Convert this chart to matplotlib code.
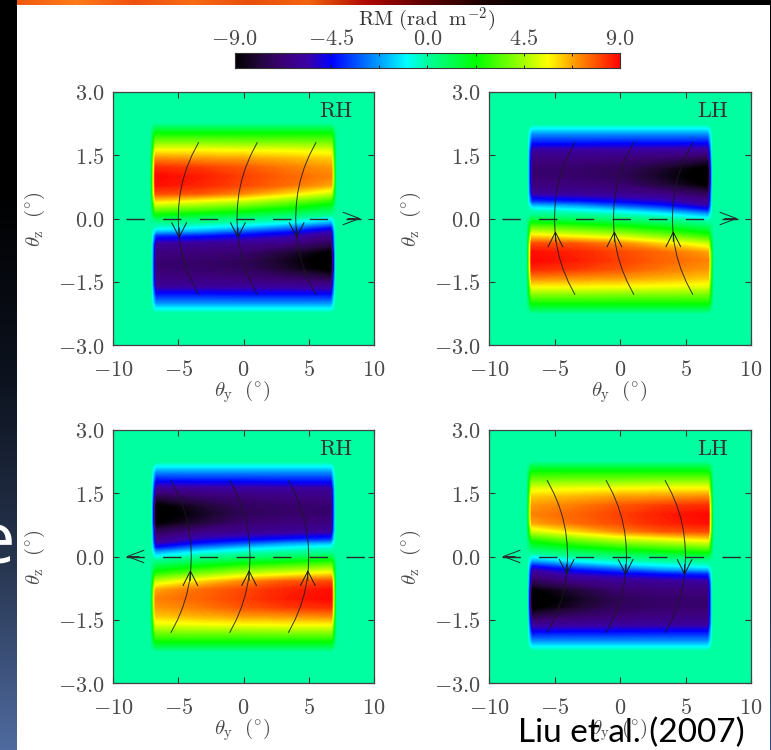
import numpy as np
import matplotlib
matplotlib.use('Agg')
from matplotlib import pyplot as plt
from matplotlib.colors import LinearSegmentedColormap, Normalize

plt.rcParams['mathtext.fontset'] = 'cm'
plt.rcParams['font.family'] = ['DejaVu Serif']

W, H = 771, 750

# RM map of the top left panel, read by eye. the other panels are mirror images
y_knots = [-6.75, -3.3, 0.0, 3.3, 6.75]
z_knots = [2.15, 2.0, 1.8, 1.6, 1.4, 1.2, 1.0, 0.8, 0.6, 0.4, 0.2, 0.1, 0.0,
           -0.1, -0.2, -0.3, -0.4, -0.6, -0.8, -1.0, -1.2, -1.4, -1.6, -1.8, -2.0, -2.15]
rm_values = [
    [1.0, 1.0, 1.0, 1.0, 1.0],
    [2.4, 2.4, 2.4, 2.4, 2.4],
    [4.0, 4.0, 3.9, 3.9, 3.8],
    [5.7, 5.7, 5.6, 5.5, 5.3],
    [7.2, 7.0, 6.9, 6.6, 6.3],
    [8.4, 8.2, 7.8, 7.3, 6.9],
    [8.9, 8.6, 8.1, 7.6, 7.2],
    [8.8, 8.5, 8.0, 7.5, 6.7],
    [8.0, 7.8, 7.1, 6.1, 4.9],
    [5.8, 5.2, 4.7, 3.8, 2.6],
    [3.5, 3.0, 2.5, 1.8, 0.9],
    [2.3, 1.8, 1.4, 0.8, 0.2],
    [1.0, 0.7, 0.4, 0.0, -1.0],
    [0.1, 0.0, -0.4, -1.0, -2.3],
    [-0.5, -1.0, -1.6, -2.6, -4.2],
    [-1.8, -2.3, -3.3, -4.2, -5.5],
    [-3.8, -4.2, -4.7, -5.2, -6.3],
    [-6.0, -6.1, -6.3, -6.6, -7.5],
    [-6.6, -6.7, -6.9, -7.9, -9.2],
    [-6.9, -7.0, -7.3, -8.4, -9.7],
    [-6.9, -7.0, -7.2, -8.1, -9.4],
    [-6.6, -6.6, -6.8, -7.1, -7.8],
    [-6.0, -6.0, -6.0, -6.1, -6.2],
    [-4.3, -4.3, -4.4, -4.4, -4.5],
    [-2.6, -2.6, -2.6, -2.6, -2.6],
    [-1.0, -1.0, -1.0, -1.0, -1.0],
]

# field lines: where they cross z=0, and how far they bend away at height z
line_z = [1.8, 1.5, 1.2, 0.9, 0.6, 0.3, 0.0, -0.3, -0.6, -0.9, -1.2, -1.5, -1.8]
line_bend = [1.55, 1.05, 0.65, 0.35, 0.15, 0.04, 0.0, 0.04, 0.15, 0.35, 0.65, 1.05, 1.55]
mids_left = [-5.0, -0.5, 4.0]
mids_right = [-4.0, 0.5, 5.0]

cbar_ticks = [-9.0, -4.5, 0.0, 4.5, 9.0]
cbar_minor = [-6.75, -2.25, 2.25, 6.75]
x_ticks = [-10, -5, 0, 5, 10]
z_ticks = [-3.0, -1.5, 0.0, 1.5, 3.0]

cmap_stops = [(-9.0, '#000000'), (-7.8, '#24063f'), (-6.75, '#3c0078'), (-5.6, '#3a00a8'),
              (-4.5, '#0000ff'), (-2.25, '#00a0ff'), (-1.0, '#00ffff'), (0.0, '#00ff9c'),
              (2.25, '#00ff00'), (4.5, '#a8ff00'), (5.6, '#ffff00'), (7.0, '#ff9000'),
              (9.0, '#ff0000')]
cmap = LinearSegmentedColormap.from_list('rm', [((v + 9) / 18, c) for v, c in cmap_stops], N=512)
norm = Normalize(-9, 9)

left_strip = ['#000000', '#000000', '#0c121e', '#27354f', '#4f6a9f']
right_strip = ['#000000', '#0a1020', '#2a4a80']
top_strip = ['#f05a10', '#ff7a18', '#ee5010', '#f86a14', '#e84e0c', '#f4640f', '#b00a00', '#600000',
             '#200000', '#000000', '#000000', '#000000', '#000000', '#000000']

GREY = '#4a4a4a'
LINE = '#2a2a2a'
FS = 16


def px_axes(x0, y0, x1, y1, **kw):
    return fig.add_axes([x0 / W, 1 - y1 / H, (x1 - x0) / W, (y1 - y0) / H], **kw)


fig = plt.figure(figsize=(W / 100, H / 100), dpi=100, facecolor='white')

# slide behind the figure
for box, stops, vertical in [((0, 0, 17, H), left_strip, True),
                             ((769.5, 0, W, H), right_strip, True),
                             ((17, 0, W, 5), top_strip, False)]:
    a = px_axes(*box)
    a.axis('off')
    c = LinearSegmentedColormap.from_list('strip', stops)
    g = np.linspace(0, 1, 256)
    g = g[:, None] if vertical else g[None, :]
    a.imshow(g, cmap=c, aspect='auto')
fig.text(-25 / W, 1 - 563 / H, 'e', color='white', fontsize=52, family='Open Sans', va='baseline')

# colorbar
cax = px_axes(234.7, 53, 620, 68)
cax.imshow(np.linspace(-9, 9, 512)[None, :], cmap=cmap, norm=norm, aspect='auto', extent=[-9, 9, 0, 1])
cax.set_yticks([])
cax.set_xticks(cbar_ticks)
cax.set_xticklabels(['$%.1f$' % t for t in cbar_ticks], fontsize=FS, color=GREY)
cax.set_xticks(cbar_minor, minor=True)
cax.tick_params(axis='x', which='both', direction='in', top=True, labeltop=True, labelbottom=False,
                length=2.5, width=0.7, color='#222222', pad=2)
for s in cax.spines.values():
    s.set_linewidth(0.8)
    s.set_color('#333333')
fig.text(427 / W, 1 - 20 / H, r'$\mathrm{RM}\ (\mathrm{rad}\ \ \mathrm{m}^{-2})$', fontsize=15, color='#333333',
         ha='center', va='center')

panels = [
    # box, flip y, flip z, label, bend, mids, arrow dir z, tip z, horizontal arrow
    ((113, 92, 374, 345), 1, 1, 'RH', 1, mids_left, -1, -0.47, 1),
    ((489, 92, 751, 345), 1, -1, 'LH', 1, mids_left, 1, -0.3, 1),
    ((113, 430, 374, 683), -1, -1, 'RH', -1, mids_right, 1, -0.32, -1),
    ((489, 430, 751, 683), -1, 1, 'LH', -1, mids_right, -1, -0.44, -1),
]

yy = np.array([-10.0, -7.1] + y_knots + [7.1, 10.0])
zz = np.array([3.0, 2.25] + z_knots + [-2.25, -3.0])
field = np.pad(np.array(rm_values), 2)
levels = np.linspace(-9.8, 9.8, 257)

for box, fy, fz, label, bend, mids, head_z, tip, horiz in panels:
    ax = px_axes(*box)
    ax.set_facecolor(cmap(norm(0)))
    ax.contourf(fy * yy, fz * zz, field, levels=levels, cmap=cmap, norm=norm, antialiased=False)
    ax.set_xlim(-10, 10)
    ax.set_ylim(-3, 3)

    # dashed axis with open arrow head
    ax.plot([-9, 9 if horiz > 0 else 10], [0, 0], color=LINE, lw=1.0, dashes=(13.2, 13.2))
    ax.annotate('', xy=(9 * horiz, 0), xytext=(8 * horiz, 0),
                arrowprops=dict(arrowstyle='->,head_length=0.85,head_width=0.32', color=LINE, lw=0.7,
                                shrinkA=0, shrinkB=0, mutation_scale=14))

    # curved field lines
    for mid in mids:
        xs = [mid + bend * b for b in line_bend]
        ax.plot(xs, line_z, color='#1a1a1a', lw=0.7, alpha=0.85)
        ax.annotate('', xy=(mid + bend * 0.07, tip), xytext=(mid + bend * 0.07, tip - head_z * 0.25),
                    arrowprops=dict(arrowstyle='->,head_length=0.75,head_width=0.38', color='#1a1a1a', lw=0.7,
                                    shrinkA=0, shrinkB=0, mutation_scale=14))

    ax.text(0.855, 0.925, label, transform=ax.transAxes, ha='center', va='center', fontsize=16,
            color='#333333', family='cmr10')

    ax.set_xticks(x_ticks)
    ax.set_yticks(z_ticks)
    ax.set_xticklabels(['$%d$' % t for t in x_ticks], fontsize=FS, color=GREY)
    ax.set_yticklabels(['$%.1f$' % t for t in z_ticks], fontsize=FS, color=GREY)
    ax.tick_params(direction='in', top=True, right=True, length=4, width=0.8, color='#333333')
    ax.tick_params(axis='x', pad=10)
    ax.tick_params(axis='y', pad=6)
    for s in ax.spines.values():
        s.set_linewidth(0.9)
        s.set_color('#444444')

    cx = (box[0] + box[2]) / 2
    fig.text((cx - 1) / W, 1 - (box[3] + 47) / H, r'$\theta_{\mathrm{y}}\ \ (^{\circ})$', fontsize=15, color=GREY,
             ha='center', va='center')
    fig.text((box[0] - 78) / W, 1 - ((box[1] + box[3]) / 2 + 1) / H, r'$\theta_{\mathrm{z}}\ \ (^{\circ})$',
             fontsize=15, color=GREY, ha='center', va='center', rotation=90)

fig.text(631 / W, 1 - 733 / H, 'Liu et al. (2007)', fontsize=24, color='black', family='Lato',
         ha='center', va='center')

fig.savefig('out.png', dpi=100)
